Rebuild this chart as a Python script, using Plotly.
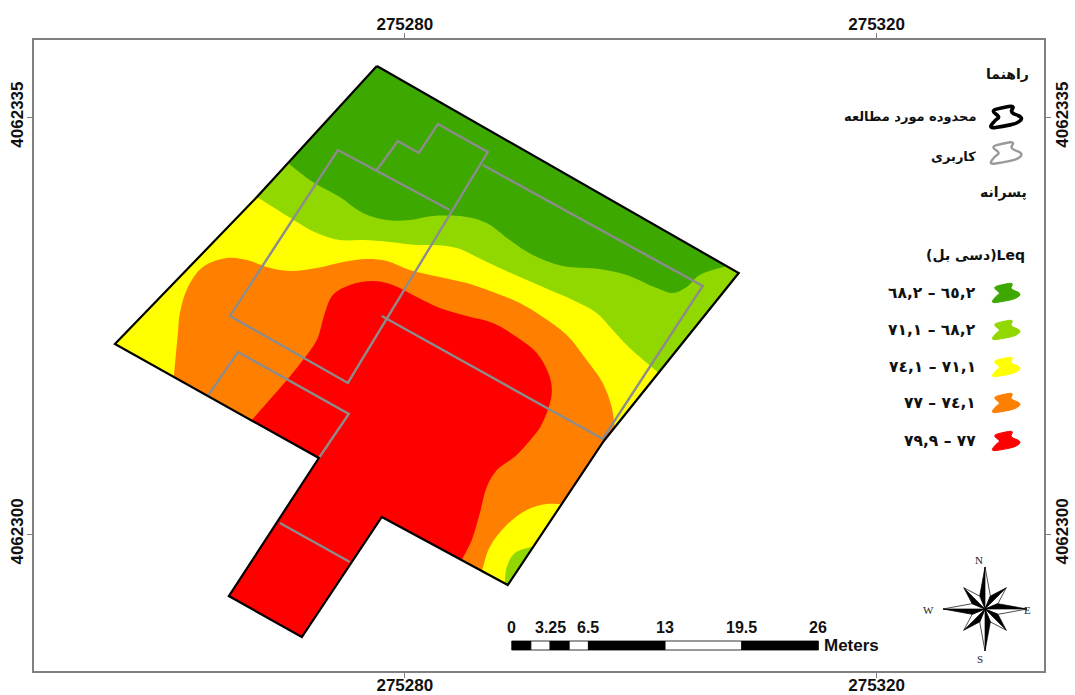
import math
import plotly.graph_objects as go

# Map origin: every polygon vertex below is metres east / north of this point
EAST0 = 275280
NORTH0 = 4062300

X_TICKS = [275280, 275320]
Y_TICKS = [4062300, 4062335]

# Study-area boundary
AREA_E = [-2.37, 28.31, 16.87, 8.73, -1.95, -8.73, -14.92, -7.29, -24.58, -12.54, -2.37]
AREA_N = [39.29, 21.91, 7.81, -4.28, 1.43, -8.65, -5.21, 6.38, 15.95, 28.29, 39.29]

# Leq class boundaries
B_LGREEN_E = [-9.92, -7.80, -5.51, -3.56, -1.53, 0.42, 2.37, 5.25, 6.95, 8.90, 10.85, 13.39, 16.53, 18.81, 21.36, 22.71, 23.90, 25.00, 27.29]
B_LGREEN_N = [31.15, 29.55, 28.29, 26.95, 26.36, 26.36, 26.70, 26.62, 26.11, 24.68, 23.42, 22.50, 22.25, 21.75, 20.65, 20.23, 20.74, 21.75, 22.50]

B_YELLOW_E = [-12.54, -11.19, -9.15, -7.46, -5.51, -3.56, -1.27, 1.02, 2.37, 4.41, 6.10, 8.05, 10.34, 12.29, 14.24, 16.27, 17.63, 19.07, 21.53]
B_YELLOW_N = [28.29, 27.46, 26.20, 25.27, 24.68, 24.68, 24.52, 24.26, 24.26, 24.01, 23.26, 22.33, 21.33, 20.49, 19.65, 18.56, 17.13, 15.62, 13.52]

B_ORANGE_E = [-19.58, -19.24, -19.07, -18.39, -17.12, -15.09, -13.39, -11.70, -9.75, -7.46, -5.25, -3.22, -1.53, 0.42, 2.97, 5.25, 7.46, 9.75, 11.70, 13.73, 15.42, 16.78, 17.54, 17.80]
B_ORANGE_N = [13.18, 16.88, 18.56, 20.74, 22.42, 23.17, 23.01, 22.42, 22.08, 22.33, 22.84, 23.09, 22.92, 22.17, 21.58, 21.07, 20.32, 19.39, 18.22, 16.71, 14.61, 12.68, 10.66, 8.98]

B_RED_E = [-12.97, -11.70, -10.00, -8.64, -7.46, -6.78, -6.10, -4.66, -2.71, -1.02, 1.02, 2.97, 5.25, 7.46, 9.49, 11.19, 12.29, 12.46, 12.12, 11.44, 10.85, 9.49, 7.80, 6.95, 6.36, 5.68, 4.83]
B_RED_N = [9.57, 11.00, 12.93, 14.61, 16.29, 18.56, 20.07, 20.91, 21.24, 20.91, 19.90, 18.97, 18.30, 17.72, 16.54, 15.20, 13.18, 11.84, 10.41, 8.90, 8.14, 6.63, 5.37, 3.95, 1.76, -0.50, -2.18]

CORNER_YELLOW_E = [6.53, 7.20, 8.64, 10.34, 12.03, 13.31]
CORNER_YELLOW_N = [-3.11, -1.09, 0.76, 2.02, 2.52, 2.52]
CORNER_LGREEN_E = [8.47, 8.64, 9.32, 10.93]
CORNER_LGREEN_N = [-4.11, -2.77, -1.60, -1.01]

# Land-use lines
USE_LINES = [
    ([3.81, -5.68, -14.83, -4.83, 7.03, 2.80, 1.19, -0.59, -2.37],
     [27.20, 32.24, 18.30, 12.68, 32.07, 34.42, 31.99, 33.00, 30.56]),
    ([6.61, 25.26, 16.78, -1.95], [30.98, 20.82, 7.98, 18.30]),
    ([-16.70, -14.15, -4.75, -7.29], [11.59, 15.28, 10.08, 6.38]),
    ([-10.59, -4.66], [0.92, -2.35]),
]

LEGEND_LABELS = ["٦٥,٢ – ٦٨,٢", "٦٨,٢ – ٧١,١", "٧١,١ – ٧٤,١", "٧٤,١ – ٧٧", "٧٧ – ٧٩,٩"]
LEGEND_COLORS = ["#3DA800", "#90D800", "#FFFF00", "#FF8000", "#FF0000"]
SCALE_LABELS = ["0", "3.25", "6.5", "13", "19.5", "26"]
SCALE_BREAKS = [0, 1.625, 3.25, 4.875, 6.5, 13, 19.5, 26]

W, H = 1075, 695
L, T, R, B = 34, 40, 1044.5, 671
SX, SY = 11.8, 11.91
x_range = [EAST0 + (L - 405) / SX, EAST0 + (R - 405) / SX]
y_range = [NORTH0 + (534 - B) / SY, NORTH0 + (534 - T) / SY]

def fx(px):
    return (px - L) / (R - L)

def fy(py):
    return (B - py) / (B - T)

def region(curve_e, curve_n, edge_e, edge_n, color):
    """Class area: a smooth curve, then straight map-edge runs with crisp corners."""
    pts = list(zip(curve_e, curve_n)) + list(zip(edge_e, edge_n))
    n_curve = len(curve_e)
    n = len(pts)
    out = []
    eps = 0.2
    for i, (x, y) in enumerate(pts):
        if 0 < i < n_curve - 1:
            out.append((x, y))
            continue
        px_, py_ = pts[(i - 1) % n]
        qx, qy = pts[(i + 1) % n]
        d1 = math.hypot(x - px_, y - py_)
        d2 = math.hypot(qx - x, qy - y)
        out.append((x - eps * (x - px_) / d1, y - eps * (y - py_) / d1))
        out.append((x, y))
        out.append((x + eps * (qx - x) / d2, y + eps * (qy - y) / d2))
    out.append(out[0])
    return go.Scatter(x=[EAST0 + p[0] for p in out], y=[NORTH0 + p[1] for p in out], mode="lines",
                      fill="toself", fillcolor=color,
                      line=dict(width=0, color=color, shape="spline", smoothing=1, simplify=False),
                      hoverinfo="skip", showlegend=False)

fig = go.Figure()
DG, LG, YE, OR, RE = LEGEND_COLORS
fig.add_trace(go.Scatter(x=[EAST0 + e for e in AREA_E], y=[NORTH0 + n for n in AREA_N], mode="lines",
                         fill="toself", fillcolor=DG, line=dict(width=0, color=DG),
                         hoverinfo="skip", showlegend=False))
# Straight runs of the map edge that close each class area
SOUTH_E = [8.73, -1.95, -8.73, -14.92, -7.29]
SOUTH_N = [-4.28, 1.43, -8.65, -5.21, 6.38]
fig.add_trace(region(B_LGREEN_E, B_LGREEN_N, [28.31, 16.87] + SOUTH_E + [-24.58], [21.91, 7.81] + SOUTH_N + [15.95], LG))
fig.add_trace(region(B_YELLOW_E, B_YELLOW_N, [16.87] + SOUTH_E + [-24.58], [7.81] + SOUTH_N + [15.95], YE))
fig.add_trace(region(B_ORANGE_E, B_ORANGE_N, [16.87] + SOUTH_E, [7.81] + SOUTH_N, OR))
fig.add_trace(region(B_RED_E, B_RED_N, SOUTH_E[1:], SOUTH_N[1:], RE))
fig.add_trace(region(CORNER_YELLOW_E, CORNER_YELLOW_N, [8.73], [-4.28], YE))
fig.add_trace(region(CORNER_LGREEN_E, CORNER_LGREEN_N, [8.73], [-4.28], LG))

for es, ns in USE_LINES:
    fig.add_trace(go.Scatter(x=[EAST0 + e for e in es], y=[NORTH0 + n for n in ns], mode="lines",
                             line=dict(color="#8C8C8C", width=2.4), hoverinfo="skip", showlegend=False))

fig.add_trace(go.Scatter(x=[EAST0 + e for e in AREA_E], y=[NORTH0 + n for n in AREA_N], mode="lines",
                         line=dict(color="#000000", width=2.2), hoverinfo="skip", showlegend=False))
# Anchors for the mirrored axes
fig.add_trace(go.Scatter(x=X_TICKS, y=Y_TICKS, xaxis="x2", yaxis="y2", mode="markers",
                         marker=dict(opacity=0), hoverinfo="skip", showlegend=False))

shapes, notes = [], []

# Scale bar, drawn in map units
bar_x0 = EAST0 + (512 - 405) / SX
bar_top = NORTH0 + (534 - 641) / SY
bar_bot = NORTH0 + (534 - 650) / SY
for i in range(len(SCALE_BREAKS) - 1):
    shapes.append(dict(type="rect", xref="x", yref="y",
                       x0=bar_x0 + SCALE_BREAKS[i], x1=bar_x0 + SCALE_BREAKS[i + 1],
                       y0=bar_bot, y1=bar_top,
                       fillcolor="#000000" if i % 2 == 0 else "#FFFFFF",
                       line=dict(color="#000000", width=0.8)))
scale_pos = [0, 3.25, 6.5, 13, 19.5, 26]
for lab, v in zip(SCALE_LABELS, scale_pos):
    notes.append(dict(x=bar_x0 + v, y=NORTH0 + (534 - 627) / SY, xref="x", yref="y", yanchor="middle", text=lab, showarrow=False,
                      font=dict(family="Liberation Sans", size=16, color="#111111", weight=700)))
notes.append(dict(x=fx(822), y=fy(645), xref="paper", yref="paper", xanchor="left", yanchor="middle", text="Meters", showarrow=False,
                  font=dict(family="Liberation Sans", size=17, color="#111111", weight=700)))

# Legend swatches
BLOB = [(-15, -6), (-4, -9), (8, -11), (3, -4), (16, 0), (11, 6), (-4, 9), (-17, 11), (-11, 3), (-6, 0)]

def blob_path(cx, cy, k):
    pts = [(cx + k * dx, cy + k * dy) for dx, dy in BLOB]
    mids = [((pts[i][0] + pts[(i + 1) % len(pts)][0]) / 2, (pts[i][1] + pts[(i + 1) % len(pts)][1]) / 2)
            for i in range(len(pts))]
    d = f"M {fx(mids[-1][0]):.5f} {fy(mids[-1][1]):.5f}"
    for p, m in zip(pts, mids):
        d += f" Q {fx(p[0]):.5f} {fy(p[1]):.5f} {fx(m[0]):.5f} {fy(m[1]):.5f}"
    return d + " Z"

shapes.append(dict(type="path", xref="paper", yref="paper", path=blob_path(1007, 117, 1.05),
                   line=dict(color="#000000", width=3.6), fillcolor="rgba(0,0,0,0)"))
shapes.append(dict(type="path", xref="paper", yref="paper", path=blob_path(1007, 153, 1.05),
                   line=dict(color="#999999", width=2.4), fillcolor="rgba(0,0,0,0)"))
leg_y = [293, 330, 367, 403, 441]
for c, ly, lab in zip(LEGEND_COLORS, leg_y, LEGEND_LABELS):
    shapes.append(dict(type="path", xref="paper", yref="paper", path=blob_path(1007, ly, 0.95),
                       line=dict(color=c, width=1), fillcolor=c))
    notes.append(dict(x=fx(978), y=fy(ly), xref="paper", yref="paper", xanchor="right", yanchor="middle", text=lab, showarrow=False,
                      font=dict(family="DejaVu Sans", size=15.5, color="#111111", weight=700)))

FA = "DejaVu Sans"
for txt, px_, py_, sz in [("راهنما", 1031, 74, 14), ("محدوده مورد مطالعه", 978, 116, 13),
                          ("کاربری", 978, 156, 13), ("پسرانه", 1029, 192, 14), ("(دسی بل)Leq", 1027, 255, 14)]:
    notes.append(dict(x=fx(px_), y=fy(py_), xref="paper", yref="paper", xanchor="right", yanchor="middle", text=txt, showarrow=False,
                      font=dict(family=FA, size=sz, color="#111111", weight=700)))

# North arrow
cx, cy = 985.5, 609
for k in range(8):
    ang = math.radians(k * 45)
    rad = 42 if k % 2 == 0 else 30
    tip = (cx + rad * math.sin(ang), cy - rad * math.cos(ang))
    for side, col in ((-1, "#000000"), (1, "#FFFFFF")):
        a2 = ang + side * math.radians(22.5)
        inner = (cx + 14 * math.sin(a2), cy - 14 * math.cos(a2))
        p = f"M {fx(cx):.5f} {fy(cy):.5f} L {fx(tip[0]):.5f} {fy(tip[1]):.5f} L {fx(inner[0]):.5f} {fy(inner[1]):.5f} Z"
        shapes.append(dict(type="path", xref="paper", yref="paper", path=p, fillcolor=col,
                           line=dict(color="#000000", width=0.7)))
for t, nx, ny in [("N", 985, 560), ("S", 985, 659), ("W", 936, 610), ("E", 1033, 610)]:
    notes.append(dict(x=fx(nx), y=fy(ny), xref="paper", yref="paper", yanchor="middle", text=t, showarrow=False,
                      font=dict(family="Liberation Serif", size=11, color="#222222")))

tick_font = dict(family="Liberation Sans", size=17, color="#111111", weight=700)
ax_common = dict(showgrid=False, zeroline=False, showline=True, linecolor="#808080", linewidth=1.6,
                 ticks="outside", ticklen=5, tickcolor="#808080", tickwidth=1, tickfont=tick_font,
                 automargin=False)
fig.update_layout(
    width=W, height=H, margin=dict(l=L, r=W - R, t=T, b=H - B, autoexpand=False),
    paper_bgcolor="#FFFFFF", plot_bgcolor="#FFFFFF", showlegend=False,
    xaxis=dict(range=x_range, tickvals=X_TICKS, ticktext=[str(v) for v in X_TICKS], ticklabelstandoff=-7, **ax_common),
    yaxis=dict(range=y_range, tickvals=Y_TICKS, ticktext=[str(v) for v in Y_TICKS], tickangle=-90, ticklabelstandoff=-3, **ax_common),
    xaxis2=dict(range=x_range, tickvals=X_TICKS, ticktext=[str(v) for v in X_TICKS], overlaying="x", side="top", anchor="y2", ticklabelstandoff=-4, **ax_common),
    yaxis2=dict(range=y_range, tickvals=Y_TICKS, ticktext=[str(v) for v in Y_TICKS], tickangle=-90, overlaying="y", side="right", anchor="x2", ticklabelstandoff=-3, **ax_common),
    shapes=shapes, annotations=notes,
)
fig.write_html("out.html", config={"displayModeBar": False},
               post_script="document.body.style.margin='0';document.documentElement.style.overflow='hidden';")
